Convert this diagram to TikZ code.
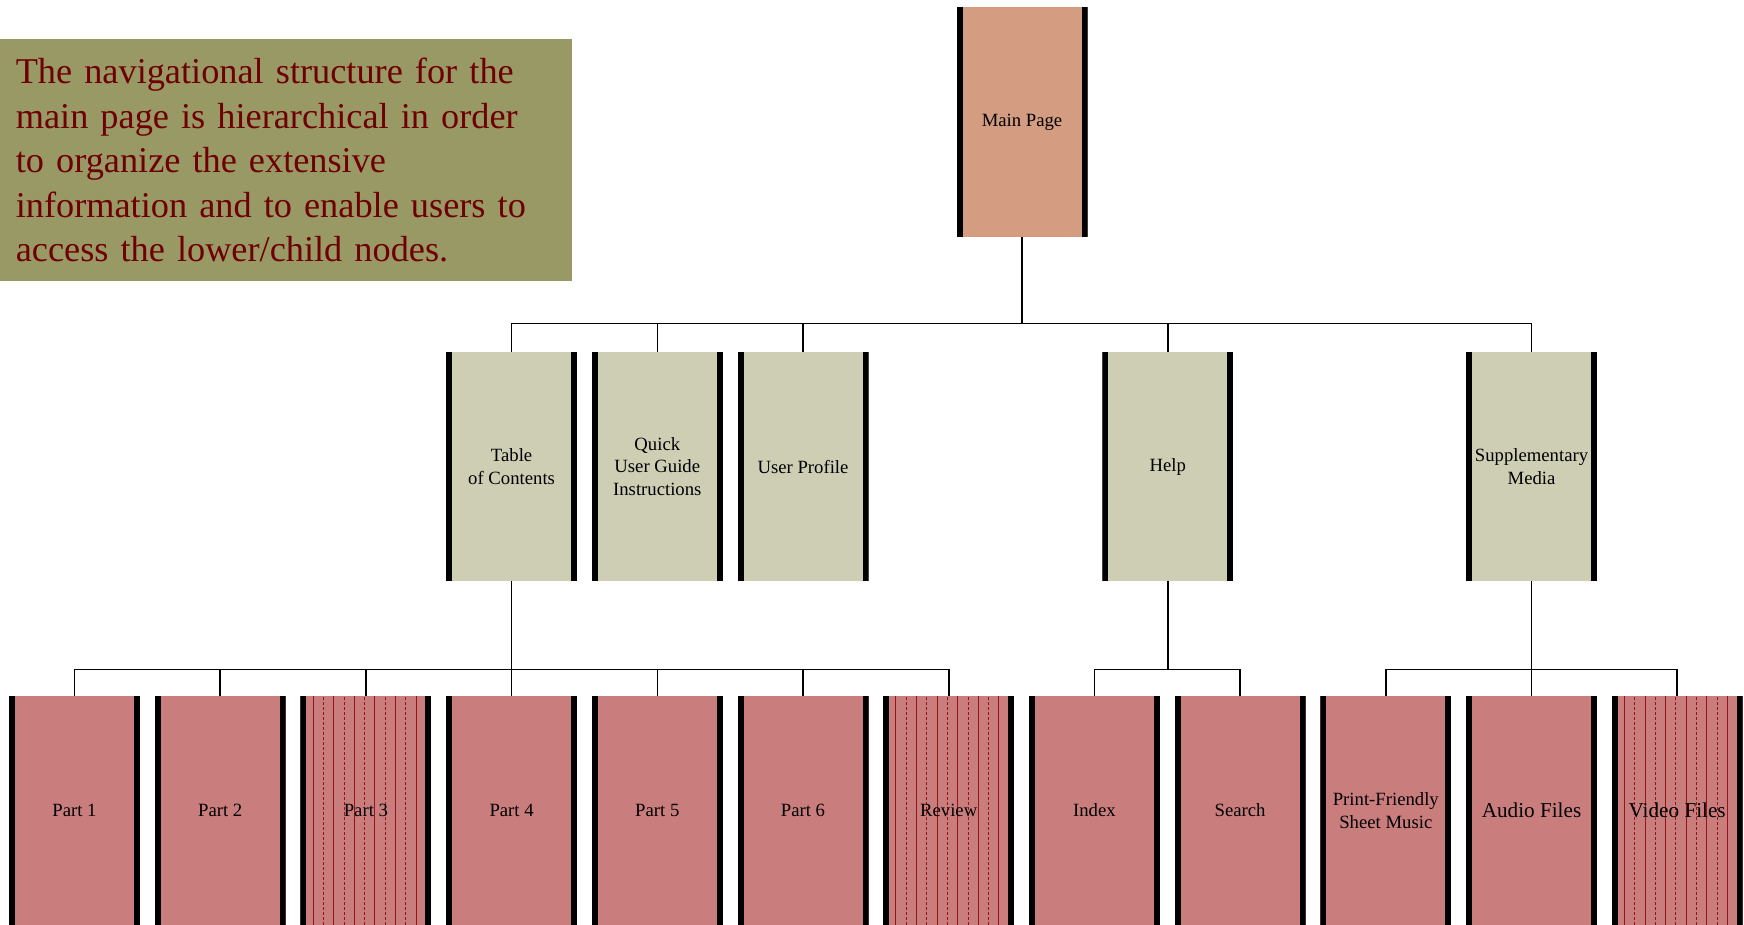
\documentclass[tikz,border=0pt]{standalone}
\usepackage{fontspec}
\setmainfont{Liberation Serif}
\definecolor{mainfill}{RGB}{212,156,128}
\definecolor{midfill}{RGB}{206,206,180}
\definecolor{leaffill}{RGB}{201,125,125}
\definecolor{notefill}{RGB}{153,153,102}
\definecolor{notetext}{RGB}{110,0,0}
\definecolor{stripecol}{RGB}{150,20,20}
\newcommand\sidebars{%
  \fill[black] (path picture bounding box.south west) rectangle ([xshift=6pt]path picture bounding box.north west);
  \fill[black] (path picture bounding box.south east) rectangle ([xshift=-6pt]path picture bounding box.north east);}
\newcommand\stripelines{%
  \foreach \k in {1,3,...,11}
    \draw[stripecol, line width=0.7pt] ([xshift=2.3pt+\k*10.3pt]path picture bounding box.south west) -- ([xshift=2.3pt+\k*10.3pt]path picture bounding box.north west);
  \foreach \k in {2,4,...,10}
    \draw[stripecol, line width=0.7pt, densely dashed] ([xshift=2.3pt+\k*10.3pt]path picture bounding box.south west) -- ([xshift=2.3pt+\k*10.3pt]path picture bounding box.north west);
  \sidebars}
\tikzset{
  page/.style={minimum width=131, minimum height=229, inner sep=0pt, align=center,
    font=\fontsize{18.7}{22.4}\selectfont, path picture={\sidebars}},
  mainpage/.style={page, fill=mainfill, minimum height=230},
  midpage/.style={page, fill=midfill},
  leafpage/.style={page, fill=leaffill},
  stripedpage/.style={leafpage, path picture={\stripelines}},
  bigtext/.style={font=\fontsize{21.2}{25}\selectfont},
  link/.style={line width=1.6pt},
  note/.style={fill=notefill, text=notetext, anchor=north west, minimum width=572, minimum height=242,
    inner xsep=15.6, inner ysep=0, text width=541, align=left, font=\fontsize{36.3}{44.5}\selectfont}
}
\begin{document}
\begin{tikzpicture}[x=1pt,y=-1pt]
\useasboundingbox (0,0) rectangle (1744,924);
\node[note] (note) at (0,39) {The navigational structure for the\\ main page is hierarchical in order\\ to organize the extensive\\ information and to enable users to\\ access the lower/child nodes.};

\node[mainpage] (main) at (1022,122) {Main Page};

\node[midpage] (toc) at (511.6,466.5) {Table\\ of Contents};
\node[midpage] (guide) at (657.3,466.5) {Quick\\ User Guide\\ Instructions};
\node[midpage] (profile) at (803,466.5) {User Profile};
\node[midpage] (help) at (1167.8,466.5) {Help};
\node[midpage] (media) at (1531.5,466.5) {Supplementary\\ Media};

\node[leafpage] (part1) at (74.5,810.5) {Part 1};
\node[leafpage] (part2) at (220.2,810.5) {Part 2};
\node[stripedpage] (part3) at (365.9,810.5) {Part 3};
\node[leafpage] (part4) at (511.6,810.5) {Part 4};
\node[leafpage] (part5) at (657.3,810.5) {Part 5};
\node[leafpage] (part6) at (803,810.5) {Part 6};
\node[stripedpage] (review) at (948.7,810.5) {Review};
\node[leafpage] (index) at (1094.4,810.5) {Index};
\node[leafpage] (search) at (1240.1,810.5) {Search};
\node[leafpage] (sheets) at (1385.8,810.5) {Print-Friendly\\ Sheet Music};
\node[leafpage, bigtext] (audio) at (1531.5,810.5) {Audio Files};
\node[stripedpage, bigtext] (video) at (1677.2,810.5) {Video Files};

\coordinate (mainjoin) at (1022,323.6);
\coordinate (tocjoin) at (511.6,669.6);
\coordinate (helpjoin) at (1167.8,669.6);
\coordinate (mediajoin) at (1531.5,669.6);

\draw[link] (main) -- (mainjoin);
\foreach \n in {toc,guide,profile,help,media}
  \draw[link] (mainjoin) -| (\n);
\draw[link] (toc) -- (tocjoin);
\foreach \n in {part1,part2,part3,part4,part5,part6,review}
  \draw[link] (tocjoin) -| (\n);
\draw[link] (help) -- (helpjoin);
\foreach \n in {index,search}
  \draw[link] (helpjoin) -| (\n);
\draw[link] (media) -- (mediajoin);
\foreach \n in {sheets,audio,video}
  \draw[link] (mediajoin) -| (\n);

\end{tikzpicture}
\end{document}
